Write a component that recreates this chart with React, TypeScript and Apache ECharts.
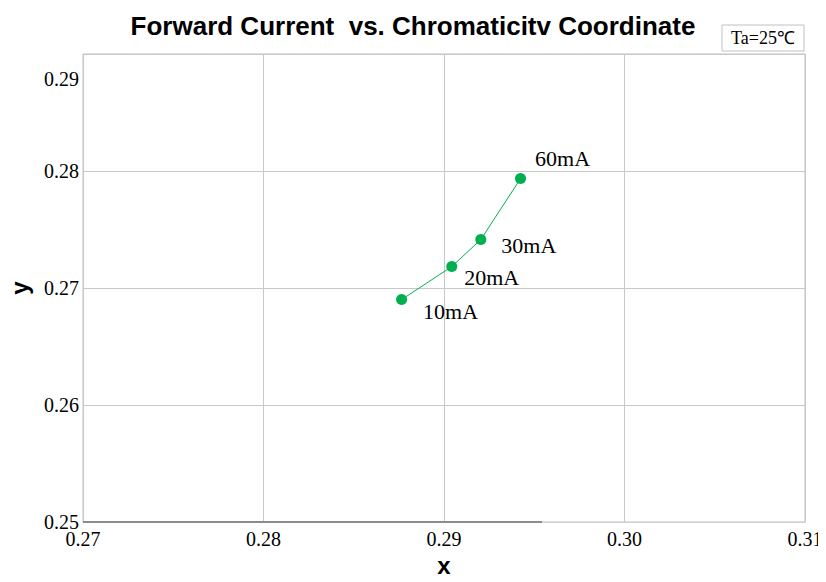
import React, { useEffect, useRef } from "react";
import * as echarts from "echarts";

const currents = ["10mA", "20mA", "30mA", "60mA"];
const xValues = [0.28765, 0.29043, 0.29204, 0.29424];
const yValues = [0.26901, 0.27183, 0.27414, 0.27935];
const labelOffsets = [[11, 12], [2, 11], [10, 6], [4, -20]];
const xTicks = { min: 0.27, max: 0.31, interval: 0.01 };
const yTicks = { min: 0.25, max: 0.29, interval: 0.01 };
const titleText = "Forward Current  vs. Chromaticitv Coordinate";
const noteText = "Ta=25℃";
const topYLabel = "0.29";

export default function App() {
  const ref = useRef<HTMLDivElement>(null);
  useEffect(() => {
    const chart = echarts.init(ref.current!, null, { renderer: "svg" });
    const serif = "Liberation Serif, Times New Roman, serif";
    const sans = "Liberation Sans, Arial, sans-serif";
    const data = xValues.map((x, i) => ({
      value: [x, yValues[i]],
      name: currents[i],
      label: { offset: labelOffsets[i] },
    }));
    chart.setOption({
      animation: false,
      backgroundColor: "#ffffff",
      title: {
        text: titleText,
        left: "center",
        top: 8,
        textStyle: { fontFamily: sans, fontWeight: "bold", fontSize: 26, color: "#000" },
      },
      grid: {
        left: 83,
        right: 21,
        top: 54,
        bottom: 60,
        show: true,
        borderColor: "#c0c0c0",
        borderWidth: 1,
        containLabel: false,
        outerBoundsMode: "none",
      },
      xAxis: {
        type: "value",
        min: xTicks.min,
        max: xTicks.max,
        interval: xTicks.interval,
        name: "x",
        nameLocation: "middle",
        nameGap: 26,
        nameTextStyle: { fontFamily: sans, fontWeight: "bold", fontSize: 24, color: "#000" },
        axisLine: { show: true, lineStyle: { color: "#d0d0d0" } },
        axisTick: { show: false },
        axisLabel: {
          fontFamily: serif,
          fontSize: 20,
          color: "#000",
          margin: 7,
          formatter: (v: number) => v.toFixed(2),
        },
        splitLine: { show: true, lineStyle: { color: "#c8c8c8" } },
      },
      yAxis: {
        type: "value",
        min: yTicks.min,
        max: yTicks.max,
        interval: yTicks.interval,
        name: "y",
        nameLocation: "middle",
        nameGap: 52,
        nameRotate: 90,
        nameTextStyle: { fontFamily: sans, fontWeight: "bold", fontSize: 24, color: "#000" },
        axisLine: { show: false },
        axisTick: { show: false },
        axisLabel: {
          fontFamily: serif,
          fontSize: 20,
          color: "#000",
          margin: 4,
          showMaxLabel: false,
          formatter: (v: number) => v.toFixed(2),
        },
        splitLine: { show: true, lineStyle: { color: "#c8c8c8" } },
      },
      graphic: [
        {
          type: "rect",
          shape: { x: 722, y: 25, width: 82, height: 26 },
          style: { fill: "#fff", stroke: "#c0c0c0", lineWidth: 1 },
        },
        {
          type: "text",
          x: 763,
          y: 38,
          style: {
            text: noteText,
            font: "18px Liberation Serif, serif",
            fill: "#000",
            align: "center",
            verticalAlign: "middle",
          },
        },
        {
          type: "text",
          x: 79,
          y: 79,
          style: {
            text: topYLabel,
            font: "20px Liberation Serif, serif",
            fill: "#000",
            align: "right",
            verticalAlign: "middle",
          },
        },
        {
          type: "line",
          shape: { x1: 83, y1: 522, x2: 542, y2: 522 },
          style: { stroke: "#8c8c8c", lineWidth: 2 },
          z: 10,
        },
      ],
      series: [
        {
          type: "line",
          data,
          symbol: "circle",
          symbolSize: 11,
          itemStyle: { color: "#00b050" },
          lineStyle: { color: "#00b050", width: 1 },
          label: {
            show: true,
            position: "right",
            formatter: (p: any) => p.name,
            fontFamily: serif,
            fontSize: 22,
            color: "#000",
          },
        },
      ],
    });
    return () => chart.dispose();
  }, []);
  return <div ref={ref} style={{ width: 826, height: 582, margin: -8 }} />;
}
